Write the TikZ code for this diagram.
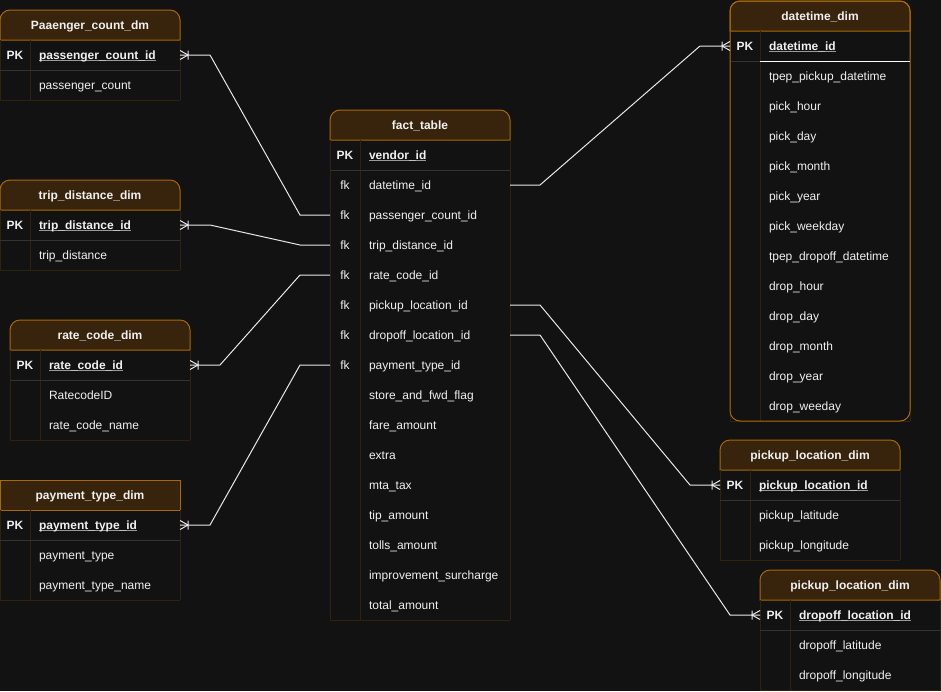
\documentclass[tikz,border=0pt]{standalone}
\usepackage{fontspec}
\setmainfont{Liberation Sans}
\definecolor{bgc}{HTML}{121212}
\definecolor{hdrfill}{HTML}{38240C}
\definecolor{orng}{HTML}{A86A00}
\definecolor{faint}{HTML}{30230D}
\definecolor{divc}{HTML}{333333}
\definecolor{txt}{HTML}{F0F0F0}
\definecolor{lnc}{HTML}{E8E8E8}
\definecolor{ulc}{HTML}{9A9A9A}
\pgfdeclarelayer{back}
\pgfdeclarelayer{mid}
\pgfsetlayers{back,mid,main}
\newsavebox\pkbox
\newcommand{\pkn}[1]{\sbox\pkbox{\textbf{#1}}\rlap{\textcolor{ulc}{\rule[-1.8pt]{\wd\pkbox}{1pt}}}\usebox\pkbox}
\tikzset{
  hdr/.style={anchor=north west, minimum width=180pt, minimum height=30pt, inner sep=0pt, outer sep=0pt,
    font=\fontsize{12}{14}\selectfont\bfseries, text=txt, text height=10pt, text depth=1pt},
  hdrshape/.style={draw=orng, fill=hdrfill, line width=1pt},
  keycell/.style={anchor=north west, minimum width=30pt, minimum height=30pt, inner sep=0pt, outer sep=0pt,
    text=txt, text height=10pt, text depth=1pt},
  namecell/.style={anchor=north west, minimum height=30pt, text width=132pt, inner xsep=9pt, inner ysep=0pt,
    outer sep=0pt, align=left, text=txt, text height=10pt, text depth=1pt},
  faintline/.style={draw=faint, line width=1pt},
  divline/.style={draw=divc, line width=1pt},
  conn/.style={draw=lnc, line width=1pt},
  crowE/.pic={\draw[conn] (0,-4.5) -- (8,0) -- (0,4.5) (8,-4.5) -- (8,4.5);},
  crowW/.pic={\draw[conn] (0,-4.5) -- (-8,0) -- (0,4.5) (-8,-4.5) -- (-8,4.5);}
}
% #1 id, #2 x, #3 y, #4 title, #5 rows, #6 corner style, #7 number of rows
\newcommand{\ertable}[7]{%
  \node[hdr] (#1) at (#2,#3) {#4};
  \begin{pgfonlayer}{mid}
    \draw[hdrshape] (#1.south west) [#6] -- (#1.north west) -- (#1.north east) [sharp corners] -- (#1.south east) -- cycle;
  \end{pgfonlayer}
  \foreach \kk/\nn [count=\i] in {#5} {
    \node[keycell] (#1-k\i) at (#2,#3+30*\i) {\kk};
    \node[namecell] (#1-n\i) at (#2+30,#3+30*\i) {\nn};
    \draw[faintline] (#1-k\i.north west) -- (#1-k\i.south west)
                     (#1-k\i.north east) -- (#1-k\i.south east)
                     (#1-n\i.north east) -- (#1-n\i.south east);
  }
  \draw[faintline] (#1-k#7.south west) -- (#1-n#7.south east);
  \draw[divline] (#1-k1.south west) -- (#1-n1.south east);
}
\begin{document}
\begin{tikzpicture}[x=1pt,y=-1pt,font=\fontsize{12}{14}\selectfont]
\begin{pgfonlayer}{back}
  \fill[bgc] (0,0) rectangle (941,691);
\end{pgfonlayer}
\useasboundingbox (0,0) rectangle (941,691);

\ertable{pc}{0}{10}{Paaenger\_count\_dm}{\textbf{PK}/\pkn{passenger\_count\_id}, /passenger\_count}{rounded corners=10pt}{2}
\ertable{td}{0}{180}{trip\_distance\_dim}{\textbf{PK}/\pkn{trip\_distance\_id}, /trip\_distance}{rounded corners=10pt}{2}
\ertable{rc}{10}{320}{rate\_code\_dim}{\textbf{PK}/\pkn{rate\_code\_id}, /RatecodeID, /rate\_code\_name}{rounded corners=10pt}{3}
\ertable{pt}{0}{480}{payment\_type\_dim}{\textbf{PK}/\pkn{payment\_type\_id}, /payment\_type, /payment\_type\_name}{sharp corners}{3}
\ertable{fact}{330}{110}{fact\_table}{\textbf{PK}/\pkn{vendor\_id}, fk/datetime\_id, fk/passenger\_count\_id,
  fk/trip\_distance\_id, fk/rate\_code\_id, fk/pickup\_location\_id, fk/dropoff\_location\_id, fk/payment\_type\_id,
  /store\_and\_fwd\_flag, /fare\_amount, /extra, /mta\_tax, /tip\_amount, /tolls\_amount,
  /improvement\_surcharge, /total\_amount}{rounded corners=10pt}{16}
\ertable{dt}{730}{1}{datetime\_dim}{\textbf{PK}/\pkn{datetime\_id}, /tpep\_pickup\_datetime, /pick\_hour, /pick\_day,
  /pick\_month, /pick\_year, /pick\_weekday, /tpep\_dropoff\_datetime, /drop\_hour, /drop\_day, /drop\_month,
  /drop\_year, /drop\_weeday}{rounded corners=10pt}{13}
\draw[draw=orng, line width=1pt, rounded corners=10pt] (dt.north west) rectangle (dt-n13.south east);
\draw[draw=white, line width=1pt] (dt-n1.south west) -- (dt-n1.south east);
\ertable{pu}{720}{440}{pickup\_location\_dim}{\textbf{PK}/\pkn{pickup\_location\_id}, /pickup\_latitude, /pickup\_longitude}{rounded corners=10pt}{3}
\ertable{do}{760}{570}{pickup\_location\_dim}{\textbf{PK}/\pkn{dropoff\_location\_id}, /dropoff\_latitude, /dropoff\_longitude}{rounded corners=10pt}{3}

% connectors
\draw[conn] (pc-n1.east) -- ++(30,0) -- ([xshift=-30pt]fact-k3.west) -- (fact-k3.west);
\pic at (pc-n1.east) {crowE};
\draw[conn] (td-n1.east) -- ++(30,0) -- ([xshift=-30pt]fact-k4.west) -- (fact-k4.west);
\pic at (td-n1.east) {crowE};
\draw[conn] (rc-n1.east) -- ++(30,0) -- ([xshift=-30pt]fact-k5.west) -- (fact-k5.west);
\pic at (rc-n1.east) {crowE};
\draw[conn] (pt-n1.east) -- ++(30,0) -- ([xshift=-30pt]fact-k8.west) -- (fact-k8.west);
\pic at (pt-n1.east) {crowE};
\draw[conn] (fact-n2.east) -- ++(30,0) -- ([xshift=-30pt]dt-k1.west) -- (dt-k1.west);
\pic at (dt-k1.west) {crowW};
\draw[conn] (fact-n6.east) -- ++(30,0) -- ([xshift=-30pt]pu-k1.west) -- (pu-k1.west);
\pic at (pu-k1.west) {crowW};
\draw[conn] (fact-n7.east) -- ++(30,0) -- ([xshift=-30pt]do-k1.west) -- (do-k1.west);
\pic at (do-k1.west) {crowW};
\end{tikzpicture}
\end{document}
